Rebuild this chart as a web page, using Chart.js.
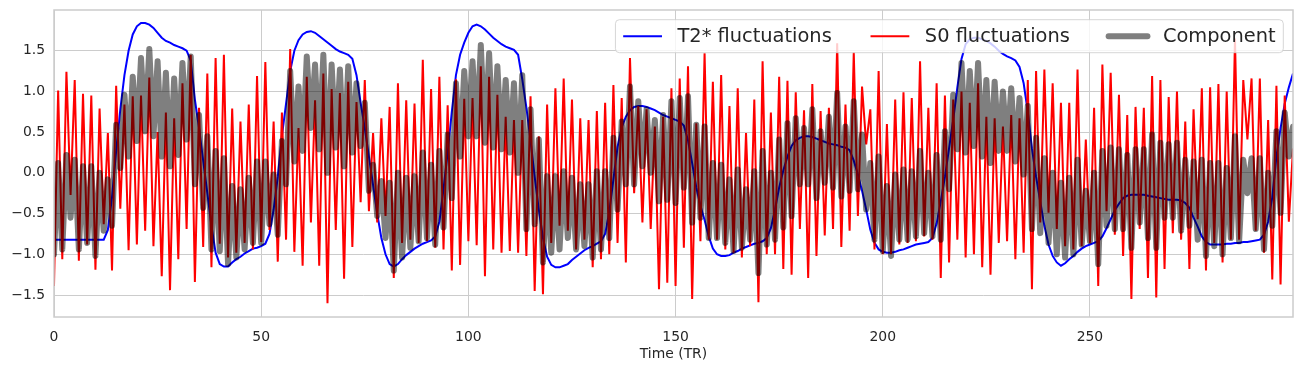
<!DOCTYPE html>
<html>
<head>
<meta charset="utf-8">
<script src="https://cdn.jsdelivr.net/npm/chart.js@4.4.0/dist/chart.umd.min.js"></script>
<style>
html, body { margin: 0; padding: 0; background: #fff; }
#wrap { width: 1303px; height: 371px; }
</style>
</head>
<body>
<div id="wrap"><canvas id="chart" width="1303" height="371"></canvas></div>
<script>
const timeTR = Array.from({ length: 300 }, (_, i) => i);

const t2Fluct = [
    -0.82,-0.82,-0.82,-0.82,-0.82,-0.82,-0.82,-0.82,-0.82,-0.82,-0.82,-0.82,-0.82,-0.70,-0.30,0.27,0.78,1.20,1.50,1.70,1.80,1.84,1.84,1.82,1.78,
    1.72,1.66,1.62,1.60,1.57,1.55,1.53,1.50,1.38,0.90,0.55,0.15,-0.25,-0.65,-0.98,-1.12,-1.15,-1.15,-1.10,-1.06,-1.03,-0.99,-0.96,-0.93,-0.92,
    -0.90,-0.87,-0.75,-0.45,-0.05,0.45,0.85,1.25,1.50,1.63,1.70,1.73,1.74,1.72,1.68,1.64,1.60,1.56,1.52,1.49,1.47,1.45,1.40,1.20,0.86,
    0.55,0.20,-0.15,-0.50,-0.80,-1.00,-1.12,-1.15,-1.12,-1.06,-1.01,-0.97,-0.93,-0.90,-0.87,-0.85,-0.83,-0.78,-0.60,-0.20,0.25,0.75,1.20,1.45,1.60,
    1.72,1.80,1.82,1.80,1.76,1.71,1.66,1.62,1.58,1.55,1.53,1.51,1.45,1.15,0.80,0.40,-0.05,-0.45,-0.80,-1.03,-1.13,-1.16,-1.16,-1.14,-1.12,
    -1.07,-1.03,-0.99,-0.95,-0.92,-0.90,-0.87,-0.84,-0.75,-0.48,-0.08,0.32,0.56,0.69,0.77,0.81,0.82,0.82,0.81,0.79,0.77,0.74,0.71,0.69,0.67,
    0.65,0.63,0.58,0.40,0.12,-0.18,-0.40,-0.58,-0.78,-0.93,-1.00,-1.02,-1.02,-1.01,-0.98,-0.96,-0.93,-0.91,-0.89,-0.87,-0.86,-0.84,-0.80,-0.68,-0.45,
    -0.18,0.03,0.20,0.33,0.40,0.43,0.45,0.45,0.44,0.42,0.40,0.38,0.36,0.35,0.34,0.32,0.31,0.28,0.15,-0.02,-0.22,-0.45,-0.70,-0.86,-0.94,
    -0.97,-0.98,-0.98,-0.97,-0.95,-0.94,-0.92,-0.90,-0.88,-0.87,-0.86,-0.85,-0.80,-0.62,-0.35,-0.05,0.30,0.65,1.05,1.40,1.58,1.64,1.66,1.66,1.64,
    1.62,1.59,1.55,1.50,1.46,1.43,1.41,1.38,1.30,1.10,0.75,0.30,-0.05,-0.35,-0.65,-0.88,-1.02,-1.10,-1.14,-1.11,-1.06,-1.02,-0.97,-0.93,-0.90,
    -0.88,-0.86,-0.84,-0.78,-0.68,-0.57,-0.46,-0.38,-0.31,-0.28,-0.27,-0.27,-0.27,-0.27,-0.28,-0.29,-0.30,-0.31,-0.32,-0.33,-0.33,-0.33,-0.34,-0.37,-0.43,
    -0.55,-0.66,-0.78,-0.85,-0.88,-0.88,-0.88,-0.88,-0.87,-0.87,-0.86,-0.86,-0.85,-0.85,-0.84,-0.83,-0.82,-0.76,-0.60,-0.30,0.20,0.55,0.85,1.05,1.22
];

const s0Fluct = [
    -1.39,1.01,-1.06,1.24,-0.27,1.14,-1.08,0.97,-0.88,0.95,-1.19,0.79,-0.63,0.49,-1.20,1.07,-0.44,0.84,-0.95,0.94,-0.88,0.95,-0.71,1.17,-0.90,
    0.50,-1.27,0.74,-1.44,0.67,-1.06,1.10,-0.69,1.45,-1.34,0.80,-0.91,1.22,-1.16,1.41,-0.87,1.45,-1.04,0.79,-0.98,0.63,-0.86,0.84,-0.94,1.19,
    -0.85,1.36,-0.70,0.63,-1.09,0.74,-0.82,1.52,-0.97,0.55,-1.14,1.18,-0.61,0.89,-1.14,1.22,-1.60,1.03,-0.70,0.98,-1.30,1.12,-0.91,0.87,-0.36,
    1.14,-0.47,0.49,-0.61,0.67,-0.53,0.81,-1.29,1.10,-0.86,0.89,-0.82,0.85,-0.86,1.39,-0.84,1.03,-0.92,1.18,-0.94,0.83,-1.20,1.15,-1.13,0.91,
    -0.84,0.92,-0.89,1.31,-1.27,1.18,-0.94,0.96,-0.98,0.69,-0.96,0.65,-0.98,0.65,-1.02,0.94,-1.45,0.45,-1.49,0.84,-0.86,1.04,-0.65,1.16,-0.71,
    0.90,-0.94,0.67,-0.82,0.65,-1.16,0.76,-1.06,0.86,-1.00,1.08,-0.86,0.92,-1.10,1.41,-0.25,0.82,-0.61,0.78,-0.69,0.57,-1.43,0.69,-1.35,1.04,
    -1.39,1.16,-0.92,1.31,-1.55,0.61,-0.84,1.47,-0.82,1.12,-0.82,1.20,-0.94,0.82,-0.98,1.04,-1.04,0.49,-0.90,0.90,-1.59,1.37,-1.00,0.74,-1.00,
    1.18,-1.18,1.13,-1.25,0.99,-0.69,0.77,-1.29,1.09,-1.02,0.76,-0.77,0.80,-0.69,1.59,-0.91,0.84,-0.71,1.48,-0.53,1.06,0.35,0.78,-0.94,1.25,
    -1.00,0.60,-1.00,0.90,-0.88,0.99,-0.86,0.92,-0.84,1.37,-0.78,0.80,-0.82,1.10,-1.29,0.95,-1.10,0.90,-0.82,1.00,-1.04,0.86,-1.00,1.10,-1.16,
    0.69,-1.25,0.67,-0.86,0.57,-0.84,0.71,-1.06,0.67,-0.98,1.14,-1.43,1.25,-0.61,1.27,-0.49,1.10,-0.69,0.86,-0.90,0.86,-0.94,1.27,-0.90,0.41,
    -0.86,0.80,-1.39,1.33,-0.47,1.23,-0.76,0.96,-1.02,0.71,-1.55,0.81,-0.69,0.80,-1.29,1.19,-1.53,1.14,-1.18,0.93,-0.74,1.00,-0.82,0.63,-1.18,
    0.78,-0.57,1.04,-1.20,1.05,-0.86,1.09,-1.10,1.00,-0.82,1.65,-0.82,1.14,0.41,1.16,-0.71,1.16,-0.98,0.65,-1.31,1.07,-1.37,0.95,-0.60,0.30
];

const component = [
    -1.00,0.12,-0.94,0.22,-0.55,0.16,-0.94,0.08,-0.86,0.08,-1.02,0.00,-0.71,-0.08,-0.65,0.59,0.06,0.96,0.20,1.18,0.39,1.41,0.51,1.52,0.45,
    1.37,0.20,1.23,0.08,1.16,0.22,1.35,0.41,1.43,-0.14,0.71,-0.43,0.45,-0.94,0.27,-0.96,0.18,-1.12,-0.16,-1.04,-0.20,-0.94,-0.06,-0.86,0.14,
    -0.86,0.14,-0.63,-0.02,-0.76,0.39,-0.14,1.25,0.14,1.06,0.27,1.43,0.55,1.33,0.29,1.45,0.00,1.33,0.31,1.27,0.08,1.31,0.25,1.10,0.33,
    0.86,-0.22,0.10,-0.53,-0.10,-0.80,-0.12,-1.20,0.00,-1.04,-0.06,-0.92,-0.04,-0.84,0.25,-0.80,0.10,-0.88,0.27,-0.67,0.47,-0.31,1.10,0.20,1.25,
    0.45,1.37,0.45,1.57,0.37,1.47,0.31,1.31,0.29,1.14,0.25,1.10,0.00,1.20,-0.69,0.78,-0.63,0.41,-1.10,-0.04,-0.98,-0.04,-0.94,0.02,-0.80,
    -0.06,-0.94,-0.14,-0.90,-0.14,-1.04,0.02,-0.94,0.02,-0.80,0.43,-0.45,0.63,-0.14,1.06,-0.14,0.88,0.08,0.78,0.00,0.65,-0.35,0.71,-0.33,0.88,
    -0.37,0.92,-0.18,0.94,-0.61,0.59,-0.55,0.57,-0.80,0.12,-0.80,0.10,-0.86,-0.08,-0.96,0.04,-0.92,-0.20,-0.82,0.02,-1.23,0.27,-0.88,0.00,-0.82,
    0.41,-0.67,0.61,-0.53,0.67,-0.14,0.55,-0.14,0.78,-0.31,0.51,-0.12,0.69,-0.18,0.98,-0.29,0.57,-0.22,0.88,-0.20,0.47,-0.45,0.12,-0.82,0.20,
    -0.96,-0.16,-1.02,-0.02,-0.82,0.04,-0.82,0.02,-0.78,0.27,-0.74,0.00,-0.78,0.22,-0.82,0.51,-0.20,0.96,0.29,1.35,0.25,1.25,0.33,1.35,0.20,
    1.14,0.12,1.12,0.27,1.00,0.27,1.04,0.14,0.92,-0.02,0.82,-0.69,0.43,-0.74,0.18,-0.86,0.00,-1.00,-0.12,-1.04,-0.06,-1.00,0.16,-0.88,-0.22,
    -0.84,0.00,-1.12,0.27,-0.65,0.31,-0.69,0.29,-0.69,0.22,-0.92,0.29,-0.61,0.29,-0.80,0.47,-0.92,0.37,-0.55,0.35,-0.55,0.37,-0.71,0.16,-0.65,
    0.14,-0.82,0.16,-1.02,0.12,-0.90,0.12,-1.00,0.06,-0.80,0.45,-0.84,0.16,-0.25,0.18,-0.69,0.18,-0.94,0.00,-0.65,0.51,-0.49,0.74,0.20,0.57
];

const seriesLabels = ['T2* fluctuations', 'S0 fluctuations', 'Component'];
const xTickValues = [0, 50, 100, 150, 200, 250];
const yTickValues = [-1.5, -1.0, -0.5, 0.0, 0.5, 1.0, 1.5];

const textColor = '#262626';
const gridColor = '#cccccc';
const fontFamily = '"DejaVu Sans", "Liberation Sans", sans-serif';

// legend drawn inside the axes, upper right, 3 columns (like matplotlib ncol=3)
const insideLegend = {
    id: 'insideLegend',
    afterDraw(chart) {
        const ctx = chart.ctx;
        const area = chart.chartArea;
        const fs = 19.4;
        const handleLen = 2 * fs, textPad = 0.8 * fs, colSpace = 2 * fs, pad = 0.4 * fs;
        ctx.save();
        ctx.font = fs + 'px ' + fontFamily;
        const items = chart.data.datasets.slice().sort((a, b) => a.legendIndex - b.legendIndex);
        const widths = items.map(d => ctx.measureText(d.label).width);
        let inner = 0;
        widths.forEach(w => inner += handleLen + textPad + w);
        inner += colSpace * (items.length - 1);
        const boxW = inner + 2 * pad;
        const boxH = 33;
        const right = area.right - 0.5 * fs;
        const top = area.top + 0.5 * fs;
        const left = right - boxW;

        ctx.beginPath();
        ctx.roundRect(left, top, boxW, boxH, 4);
        ctx.fillStyle = 'rgba(255,255,255,0.8)';
        ctx.fill();
        ctx.strokeStyle = 'rgba(204,204,204,0.8)';
        ctx.lineWidth = 1;
        ctx.stroke();

        const cy = top + boxH / 2;
        let x = left + pad;
        items.forEach((d, i) => {
            ctx.beginPath();
            ctx.strokeStyle = d.borderColor;
            ctx.lineWidth = d.borderWidth;
            ctx.lineCap = d.borderCapStyle || 'butt';
            ctx.moveTo(x, cy);
            ctx.lineTo(x + handleLen, cy);
            ctx.stroke();
            ctx.fillStyle = textColor;
            ctx.textBaseline = 'middle';
            ctx.textAlign = 'left';
            ctx.fillText(d.label, x + handleLen + textPad, cy + 1);
            x += handleLen + textPad + widths[i] + colSpace;
        });
        ctx.restore();
    }
};

// light frame around the plot (all four spines)
const frame = {
    id: 'frame',
    afterDatasetsDraw(chart) {
        const ctx = chart.ctx;
        const a = chart.chartArea;
        ctx.save();
        ctx.strokeStyle = gridColor;
        ctx.lineWidth = 1.5;
        ctx.strokeRect(a.left, a.top, a.right - a.left, a.bottom - a.top);
        ctx.restore();
    }
};

const ctx = document.getElementById('chart').getContext('2d');
new Chart(ctx, {
    type: 'line',
    data: {
        labels: timeTR,
        datasets: [
            {
                label: seriesLabels[0],
                legendIndex: 0,
                data: t2Fluct,
                borderColor: '#0000ff',
                borderWidth: 2,
                pointRadius: 0,
                tension: 0,
                fill: false,
                order: 2
            },
            {
                label: seriesLabels[1],
                legendIndex: 1,
                data: s0Fluct,
                borderColor: '#ff0000',
                borderWidth: 2,
                pointRadius: 0,
                tension: 0,
                fill: false,
                order: 1
            },
            {
                label: seriesLabels[2],
                legendIndex: 2,
                data: component,
                borderColor: 'rgba(0,0,0,0.5)',
                borderWidth: 6,
                borderCapStyle: 'round',
                borderJoinStyle: 'round',
                pointRadius: 0,
                tension: 0,
                fill: false,
                order: 0
            }
        ]
    },
    options: {
        responsive: false,
        animation: false,
        devicePixelRatio: 1,
        layout: { padding: { top: 10, right: 10, left: 0, bottom: 0 } },
        plugins: {
            legend: { display: false },
            tooltip: { enabled: false }
        },
        scales: {
            x: {
                type: 'linear',
                min: 0,
                max: 299,
                grid: { color: gridColor, lineWidth: 1, drawTicks: false },
                border: { display: false },
                ticks: {
                    color: textColor,
                    padding: 12,
                    maxRotation: 0,
                    autoSkip: false,
                    font: { family: fontFamily, size: 13.9 }
                },
                afterBuildTicks(scale) {
                    scale.ticks = xTickValues.map(v => ({ value: v }));
                },
                title: {
                    display: true,
                    text: 'Time (TR)',
                    color: textColor,
                    padding: { top: 0, bottom: 8 },
                    font: { family: fontFamily, size: 13.9 }
                },
                afterFit(scale) {
                    scale.height = 54;
                    scale.paddingLeft = 0;
                    scale.paddingRight = 0;
                }
            },
            y: {
                min: -1.77,
                max: 2.0,
                grid: { color: gridColor, lineWidth: 1, drawTicks: false },
                border: { display: false },
                ticks: {
                    color: textColor,
                    padding: 9,
                    autoSkip: false,
                    font: { family: fontFamily, size: 13.9 },
                    callback: v => v.toFixed(1).replace('-', '\u2212')
                },
                afterBuildTicks(scale) {
                    scale.ticks = yTickValues.map(v => ({ value: v }));
                },
                afterFit(scale) {
                    scale.width = 54;
                    scale.paddingTop = 0;
                    scale.paddingBottom = 0;
                }
            }
        }
    },
    plugins: [frame, insideLegend]
});
</script>
</body>
</html>
